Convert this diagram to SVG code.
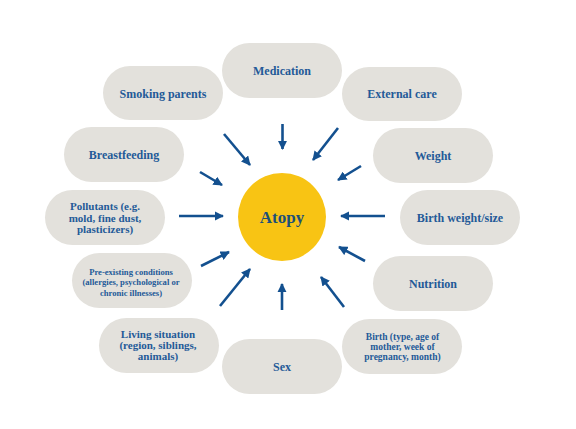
<svg xmlns="http://www.w3.org/2000/svg" width="576" height="429" viewBox="0 0 576 429">
<defs>
<style>
.pill{fill:#e3e1dc}
.t{font-family:"Liberation Serif","DejaVu Serif",serif;font-weight:bold;fill:#235a98;text-anchor:middle;dominant-baseline:central}
.m{font-size:12px}
.s{font-size:11px}
.xs{font-size:9.5px}
.xxs{font-size:8.6px}
.arr{stroke:#13508f;stroke-width:2.6;fill:none;marker-end:url(#ah)}
</style>
<marker id="ah" viewBox="0 0 10 10" refX="9" refY="5" markerWidth="3.6" markerHeight="3.6" orient="auto" markerUnits="strokeWidth">
<path d="M0,0 L10,5 L0,10 z" fill="#13508f"/>
</marker>
</defs>
<rect width="576" height="429" fill="#ffffff"/>
<g id="connectors">
<line class="arr" x1="282.5" y1="124" x2="282.5" y2="149"/>
<line class="arr" x1="224" y1="134" x2="250" y2="165"/>
<line class="arr" x1="338" y1="128" x2="313" y2="160"/>
<line class="arr" x1="200" y1="172" x2="222" y2="185"/>
<line class="arr" x1="361" y1="166" x2="338" y2="180"/>
<line class="arr" x1="179" y1="216" x2="223" y2="216"/>
<line class="arr" x1="385" y1="216" x2="341" y2="216"/>
<line class="arr" x1="201" y1="266" x2="229" y2="252"/>
<line class="arr" x1="365" y1="261" x2="339" y2="247"/>
<line class="arr" x1="220" y1="306" x2="250" y2="269"/>
<line class="arr" x1="344" y1="307" x2="321" y2="277"/>
<line class="arr" x1="282" y1="310" x2="282" y2="284"/>
</g>
<g id="atopy">
<circle cx="282" cy="217" r="44" fill="#f8c414"/>
<text x="282" y="217" class="t" style="font-size:17px;fill:#1d5078">Atopy</text>
</g>
<g id="medication"><rect class="pill" x="222" y="43" width="120" height="55" rx="27.5"/><text class="t m" x="282" y="70.5">Medication</text></g>
<g id="smoking"><rect class="pill" x="103" y="66" width="120" height="54" rx="27"/><text class="t m" x="163" y="93.5">Smoking parents</text></g>
<g id="external"><rect class="pill" x="342" y="67" width="120" height="54" rx="27"/><text class="t m" x="402" y="94">External care</text></g>
<g id="breastfeeding"><rect class="pill" x="64" y="127" width="120" height="55" rx="27.5"/><text class="t m" x="124" y="155">Breastfeeding</text></g>
<g id="weight"><rect class="pill" x="373" y="128" width="120" height="55" rx="27.5"/><text class="t m" x="433" y="155.5">Weight</text></g>
<g id="pollutants"><rect class="pill" x="45" y="190" width="120" height="55" rx="27.5"/><text class="t s" x="105"><tspan x="105" y="206">Pollutants (e.g.</tspan><tspan x="105" y="217.5">mold, fine dust,</tspan><tspan x="105" y="229">plasticizers)</tspan></text></g>
<g id="birthweight"><rect class="pill" x="400" y="190" width="120" height="55" rx="27.5"/><text class="t m" x="460" y="218">Birth weight/size</text></g>
<g id="preexisting"><rect class="pill" x="72" y="253" width="120" height="55" rx="27.5"/><text class="t xxs" x="131"><tspan x="131" y="271.5">Pre-existing conditions</tspan><tspan x="131" y="282">(allergies, psychological or</tspan><tspan x="131" y="292.5">chronic illnesses)</tspan></text></g>
<g id="nutrition"><rect class="pill" x="373" y="256" width="120" height="55" rx="27.5"/><text class="t m" x="433" y="283.5">Nutrition</text></g>
<g id="living"><rect class="pill" x="99" y="318" width="120" height="55" rx="27.5"/><text class="t s" x="158"><tspan x="158" y="334">Living situation</tspan><tspan x="158" y="345">(region, siblings,</tspan><tspan x="158" y="356">animals)</tspan></text></g>
<g id="birth"><rect class="pill" x="342" y="319" width="120" height="55" rx="27.5"/><text class="t xs" x="402.5"><tspan x="402.5" y="337">Birth (type, age of</tspan><tspan x="402.5" y="347">mother, week of</tspan><tspan x="402.5" y="357">pregnancy, month)</tspan></text></g>
<g id="sex"><rect class="pill" x="222" y="339" width="120" height="55" rx="27.5"/><text class="t m" x="282" y="366.5">Sex</text></g>
</svg>
